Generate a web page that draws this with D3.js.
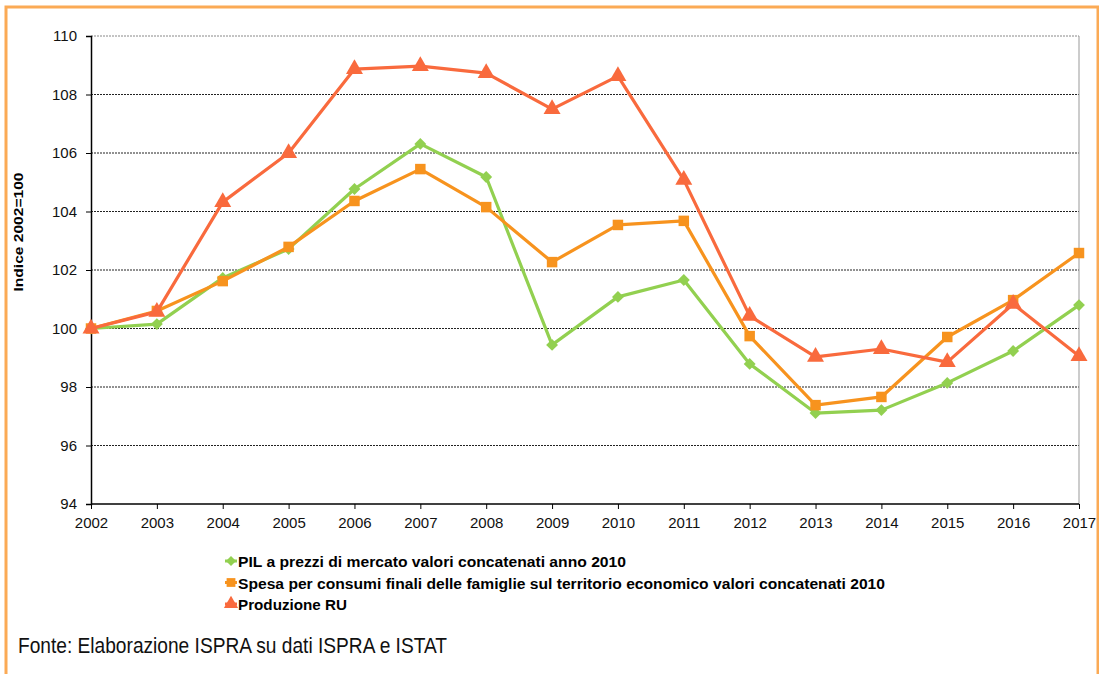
<!DOCTYPE html>
<html>
<head>
<meta charset="utf-8">
<script src="https://cdn.jsdelivr.net/npm/d3@7"></script>
<style>
  body { margin: 0; background: #fff; }
  svg { display: block; font-family: "Liberation Sans", Arial, sans-serif; }
</style>
</head>
<body>
<svg id="chart" width="1099" height="674"></svg>
<script>
const years = d3.range(2002, 2018);
const yTicks = [94, 96, 98, 100, 102, 104, 106, 108, 110];

const pil = [100, 100.15, 101.73, 102.72, 104.77, 106.31, 105.18, 99.44, 101.08, 101.66, 98.79, 97.11, 97.21, 98.14, 99.23, 100.8];
const spesa = [100, 100.6, 101.62, 102.79, 104.36, 105.45, 104.15, 102.27, 103.54, 103.68, 99.74, 97.38, 97.66, 99.71, 100.97, 102.58];
const produzione = [100, 100.57, 104.32, 106.0, 108.87, 108.97, 108.73, 107.5, 108.63, 105.08, 100.43, 99.03, 99.3, 98.85, 100.84, 99.06];

const series = [
  { name: "PIL a prezzi di mercato valori concatenati anno 2010", values: pil, color: "#92D050", symbol: d3.symbolDiamond2, size: 90, w: 388 },
  { name: "Spesa per consumi finali delle famiglie sul territorio economico valori concatenati 2010", values: spesa, color: "#F7931E", symbol: d3.symbolSquare, size: 110, w: 647 },
  { name: "Produzione RU", values: produzione, color: "#F96A3D", symbol: d3.symbolTriangle, size: 125, w: 109 }
];

const svg = d3.select("#chart");
const mLeft = 91, mRight = 1079, mTop = 36, mBottom = 504;

// cornice arancione
svg.append("rect")
  .attr("x", 6).attr("y", 7).attr("width", 1092).attr("height", 700)
  .attr("fill", "none").attr("stroke", "#FBAA55").attr("stroke-width", 3);

const x = d3.scaleLinear().domain([2002, 2017]).range([mLeft, mRight]);
const y = d3.scaleLinear().domain([94, 110]).range([mBottom, mTop]);

// griglia
svg.append("g")
  .selectAll("line")
  .data(yTicks.filter(d => d > 94))
  .enter().append("line")
  .attr("x1", mLeft).attr("x2", mRight)
  .attr("y1", d => y(d)).attr("y2", d => y(d))
  .attr("stroke", d => d === 110 ? "#888" : "#222")
  .attr("stroke-width", 1)
  .attr("stroke-dasharray", "2,1");

// bordo destro
svg.append("line")
  .attr("x1", mRight).attr("x2", mRight).attr("y1", mTop).attr("y2", mBottom)
  .attr("stroke", "#999").attr("stroke-width", 1);

// assi
const yAxis = svg.append("g")
  .attr("transform", `translate(${mLeft},0)`)
  .call(d3.axisLeft(y).tickValues(yTicks).tickSize(5).tickPadding(9));
const xAxis = svg.append("g")
  .attr("transform", `translate(0,${mBottom})`)
  .call(d3.axisBottom(x).tickValues(years).tickFormat(d3.format("d")).tickSize(5).tickPadding(8));

[yAxis, xAxis].forEach(g => {
  g.attr("font-size", 15).attr("font-family", "Liberation Sans, Arial, sans-serif");
  g.select(".domain").attr("stroke", "#000").attr("stroke-width", 1.5);
  g.selectAll(".tick line").attr("stroke", "#000");
  g.selectAll("text").attr("fill", "#111");
});
xAxis.select(".domain").attr("d", `M${mLeft},0H${mRight}`);

// titolo asse y
svg.append("text")
  .attr("transform", `translate(23,232) rotate(-90)`)
  .attr("text-anchor", "middle")
  .attr("font-size", 13).attr("font-weight", "bold")
  .attr("textLength", 119).attr("lengthAdjust", "spacingAndGlyphs")
  .text("Indice 2002=100");

// linee
const line = d3.line().x((d, i) => x(years[i])).y(d => y(d));

series.forEach(s => {
  svg.append("path")
    .datum(s.values)
    .attr("d", line)
    .attr("fill", "none")
    .attr("stroke", s.color)
    .attr("stroke-width", 3.2)
    .attr("stroke-linejoin", "round");

  svg.append("g")
    .selectAll("path")
    .data(s.values)
    .enter().append("path")
    .attr("transform", (d, i) => `translate(${x(years[i])},${y(d)})`)
    .attr("d", d3.symbol().type(s.symbol).size(s.size))
    .attr("fill", s.color);
});

// legenda
const legend = svg.append("g").attr("transform", "translate(231,561)");
series.forEach((s, i) => {
  const row = legend.append("g").attr("transform", `translate(0,${i * 21.5})`);
  row.append("line")
    .attr("x1", -6).attr("x2", 6)
    .attr("stroke", s.color).attr("stroke-width", 3);
  row.append("path")
    .attr("d", d3.symbol().type(s.symbol).size(s.size * 0.7))
    .attr("fill", s.color);
  row.append("text")
    .attr("x", 7).attr("y", 6)
    .attr("font-size", 14).attr("font-weight", "bold")
    .attr("textLength", s.w).attr("lengthAdjust", "spacingAndGlyphs")
    .text(s.name);
});

// fonte
svg.append("text")
  .attr("x", 18).attr("y", 653)
  .attr("font-size", 22)
  .attr("fill", "#111")
  .attr("textLength", 429).attr("lengthAdjust", "spacingAndGlyphs")
  .text("Fonte: Elaborazione ISPRA su dati ISPRA e ISTAT");
</script>
</body>
</html>
